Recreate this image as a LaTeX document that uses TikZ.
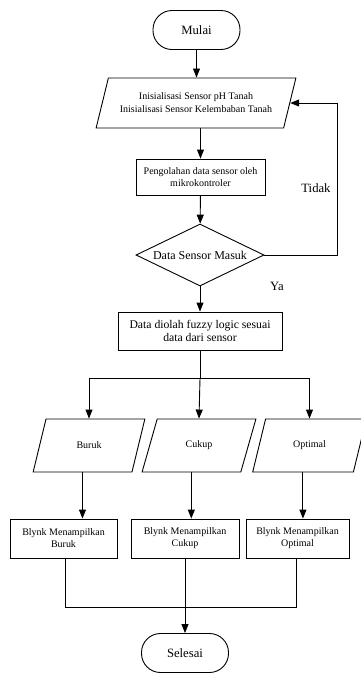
\documentclass[tikz,border=0pt]{standalone}
\usepackage{fontspec}
\setmainfont{Liberation Serif}
\usetikzlibrary{shapes.geometric, arrows.meta, positioning, calc}

\begin{document}
\begin{tikzpicture}[x=1pt, y=-1pt,
        terminal/.style={draw, rounded corners=19pt, minimum width=87pt, minimum height=39pt,
                         font=\fontsize{12.7}{14}\selectfont},
        io/.style={draw, trapezium, trapezium left angle=62, trapezium right angle=118,
                   trapezium stretches=true, align=center, inner sep=0pt,
                   font=\fontsize{10}{13}\selectfont},
        proc/.style={draw, minimum height=38pt, align=center, inner sep=0pt,
                     font=\fontsize{10}{12}\selectfont},
        decision/.style={draw, diamond, aspect=2, inner sep=0pt, minimum width=128pt,
                         minimum height=62pt, font=\fontsize{12}{14}\selectfont},
        lbl/.style={font=\fontsize{12.7}{14}\selectfont},
        arr/.style={-{Triangle[length=9pt, width=7pt]}, line width=0.9pt},
        line width=0.9pt
    ]
        \useasboundingbox (0,0) rectangle (360,673);

        \node[terminal] (mulai) at (196.5, 30) {Mulai};
        \node[io, minimum width=200pt, minimum height=50pt] (init) at (196, 103)
            {Inisialisasi Sensor pH Tanah\\Inisialisasi Sensor Kelembaban Tanah};
        \node[proc, minimum width=129pt, minimum height=36pt] (olahsensor) at (200.5, 177)
            {Pengolahan data sensor oleh\\mikrokontroler};
        \node[decision] (cek) at (200, 255) {Data Sensor Masuk};
        \node[proc, minimum width=164pt, font=\fontsize{11.7}{13.5}\selectfont] (fuzzy) at (200, 331)
            {Data diolah fuzzy logic sesuai\\data dari sensor};

        \node[io, minimum width=112pt, minimum height=53pt] (buruk) at (89, 445.5) {Buruk};
        \node[io, minimum width=114pt, minimum height=53pt] (cukup) at (199, 445.5) {Cukup};
        \node[io, minimum width=114pt, minimum height=53pt] (optimal) at (309.5, 445.5) {Optimal};

        \node[proc, minimum width=107pt, minimum height=39pt] (tampilburuk) at (63.5, 538.5)
            {Blynk Menampilkan\\Buruk};
        \node[proc, minimum width=108pt, minimum height=39pt] (tampilcukup) at (185, 538.5)
            {Blynk Menampilkan\\Cukup};
        \node[proc, minimum width=103pt, minimum height=39pt] (tampiloptimal) at (297.5, 538.5)
            {Blynk Menampilkan\\Optimal};

        \node[terminal] (selesai) at (185, 653) {Selesai};

        \node[lbl] (tidak) at (316, 188) {Tidak};
        \node[lbl] (ya) at (277, 286) {Ya};

        % alur utama
        \draw[arr] (mulai) -- (mulai |- init.north);
        \draw[arr] (init.south -| olahsensor.north) -- (olahsensor.north);
        \draw[arr] (olahsensor) -- (cek);
        \draw[arr] (cek.east) -- ++(73,0) coordinate (balik) |- (init.east);
        \draw[arr] (cek) -- (fuzzy);

        % percabangan hasil fuzzy
        \draw (fuzzy.south) -- ++(0,28) coordinate (cabang);
        \draw[arr] (cabang) -| (buruk.north);
        \draw[arr] (cabang) -- (cukup.north);
        \draw[arr] (cabang) -| (optimal.north);

        \foreach \hasil/\tampil in {buruk/tampilburuk, cukup/tampilcukup, optimal/tampiloptimal}
            \draw[arr] ($(\hasil.bottom left corner)!0.5!(\hasil.bottom right corner)$) coordinate (b\hasil)
                -- (b\hasil |- \tampil.north);

        % penggabungan
        \draw (tampilburuk.south -| 65,0) |- (296,607) coordinate (gabung) -- (tampiloptimal.south -| 296,0);
        \draw[arr] (tampilcukup.south) -- (selesai.north);
    \end{tikzpicture}
\end{document}
